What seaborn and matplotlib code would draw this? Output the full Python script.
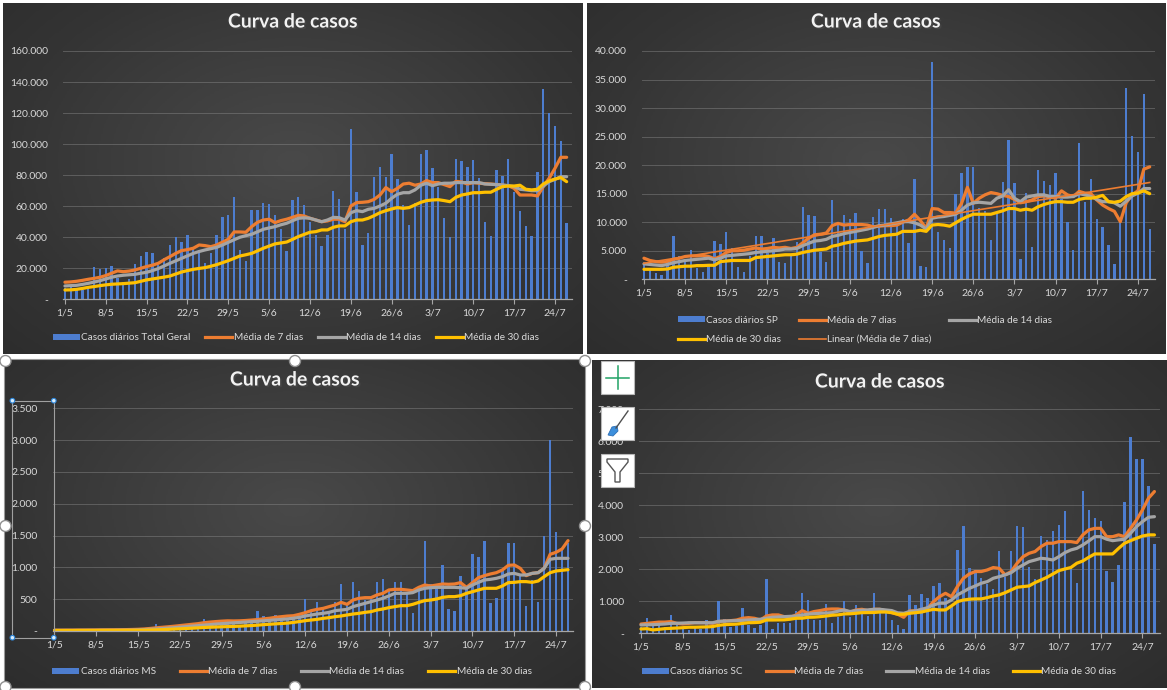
import numpy as np
import matplotlib
matplotlib.use('Agg')
import matplotlib.pyplot as plt
import matplotlib.patheffects as pe
from matplotlib.colors import LinearSegmentedColormap
from matplotlib.lines import Line2D
from matplotlib.patches import Patch, Rectangle, Circle, Polygon
from matplotlib.ticker import FuncFormatter
import seaborn as sns

plt.rcParams['font.family'] = ['Lato', 'DejaVu Sans']

W, H = 1167, 690

# Dias de 1/5 a 26/7
dias = np.arange(87)
rotulos_x = ['1/5', '8/5', '15/5', '22/5', '29/5', '5/6', '12/6', '19/6', '26/6', '3/7', '10/7', '17/7', '24/7']

# Total Geral (milhares)
total_casos = [7, 8, 6, 6, 8, 20.6, 19.5, 20.2, 21.5, 14,
               11, 13, 22.8, 27.9, 30.5, 29.6, 22, 26.4, 35.0, 40.2,
               36.9, 41.2, 33, 31.8, 23.6, 30, 41.5, 53.1, 54.1, 65.9,
               31.8, 24.7, 57.6, 57.6, 62.1, 61.4, 54.3, 45, 31.4, 64.0,
               66.0, 60.8, 50, 41.5, 34.4, 41.5, 69.8, 64.7, 45.3, 109.5,
               69.0, 35.0, 43.0, 79.0, 85.5, 79.0, 93.7, 77.5, 60.8, 47.9,
               62, 93.7, 96.2, 84.8, 72.6, 52.6, 40.0, 90.4, 89.1, 85.3,
               89.8, 78.0, 50.0, 40.8, 83.3, 79.7, 90.4, 69.4, 56.9, 47.5,
               40.8, 82.1, 135.5, 120.3, 111.7, 102.0, 49.2]
total_m7 = [11.0, 11.2, 11.6, 12.2, 12.9, 13.5, 14.2, 15.3, 16.8, 18.3,
            17.8, 18.2, 18.9, 20.0, 21.1, 22.0, 23.2, 25.5, 27.5, 29.6,
            31.4, 32.0, 32.9, 35.0, 34.6, 33.9, 35.0, 36.8, 38.7, 43.4,
            43.4, 43.2, 46.8, 49.6, 51.1, 51.6, 49.4, 50.7, 51.6, 52.8,
            54.1, 53.7, 52.2, 51.1, 50.0, 50.5, 51.6, 51.6, 50.0, 60.1,
            62.3, 62.5, 62.9, 64.4, 67.2, 72.0, 69.4, 71.5, 74.3, 74.8,
            73.5, 74.3, 76.5, 75.2, 75.2, 73.9, 72.6, 76.0, 75.6, 74.3,
            75.2, 74.8, 74.5, 74.3, 73.9, 73.5, 73.2, 71.5, 67.2, 67.2,
            67.2, 66.6, 72.6, 78.0, 84.4, 91.5, 91.5]
total_m14 = [8.6, 8.8, 9.0, 9.6, 10.3, 11.1, 12.0, 13.1, 14.2, 15.0,
             15.5, 15.8, 16.1, 16.8, 17.4, 18.5, 19.8, 21.5, 23.2, 24.8,
             26.4, 28.0, 29.6, 30.8, 31.8, 32.6, 33.5, 35.0, 36.7, 38.4,
             40.0, 41.0, 41.9, 43.5, 45.1, 46.0, 46.8, 48.0, 49.0, 50.6,
             52.2, 52.5, 52.2, 51.1, 50.0, 51.1, 52.8, 52.6, 51.1, 55.8,
             57.1, 56.5, 58.0, 58.6, 60.1, 61.9, 65.1, 67.7, 68.7, 68.7,
             70.5, 73.5, 74.8, 73.2, 74.3, 74.8, 74.8, 75.2, 75.2, 75.2,
             75.2, 75.2, 74.3, 74.1, 73.9, 73.7, 73.2, 72.6, 70.9, 70.5,
             70.0, 70.0, 73.0, 75.8, 77.3, 79.0, 79.0]
total_m30 = [6.0, 6.1, 6.4, 7.0, 7.7, 8.2, 8.8, 9.3, 9.7, 9.9,
             10.1, 10.4, 10.7, 11.6, 12.5, 13.1, 13.7, 14.3, 15.0, 16.3,
             17.6, 18.5, 19.3, 19.9, 20.4, 21.3, 22.3, 23.6, 24.9, 26.4,
             27.9, 28.7, 29.6, 31.2, 32.9, 34.3, 35.7, 36.3, 36.9, 38.6,
             40.4, 41.8, 43.2, 43.6, 44.7, 44.7, 46.4, 47.3, 47.3, 50.0,
             51.1, 51.1, 52.2, 53.9, 55.8, 57.1, 58.2, 59.1, 58.6, 59.1,
             60.8, 62.5, 63.6, 64.0, 64.2, 63.6, 62.9, 65.7, 67.2, 67.9,
             68.7, 68.7, 69.0, 69.0, 70.9, 72.6, 73.0, 73.0, 73.5, 70.9,
             70.5, 70.9, 74.3, 76.3, 77.5, 78.4, 75.8]

# SP (milhares)
sp_casos = [2.6, 1.6, 1.1, 0.8, 3.4, 7.5, 4.1, 3.4, 5.1, 1.9,
            1.3, 2.7, 6.7, 6.2, 8.2, 5.4, 2.2, 1.3, 4.0, 7.6,
            7.6, 4.6, 7.2, 3.1, 2.9, 4.0, 6.6, 12.7, 11.3, 11.1,
            4.8, 3.1, 13.9, 10.1, 11.3, 10.6, 11.7, 5.0, 2.9, 10.9,
            12.3, 12.3, 10.8, 9.6, 10.6, 6.4, 17.6, 2.3, 2.2, 38.1,
            8.2, 6.8, 5.4, 15.0, 18.7, 19.6, 19.7, 12.5, 12.0, 6.8,
            12.0, 17.1, 24.4, 16.8, 3.6, 15.1, 5.7, 19.2, 17.2, 16.5,
            18.6, 14.0, 10.1, 5.1, 23.9, 13.5, 17.6, 10.5, 9.2, 6.0,
            2.7, 10.5, 33.5, 25.1, 22.3, 32.5, 8.8]
sp_m7 = [3.7, 3.3, 3.1, 3.0, 3.1, 3.5, 3.7, 4.0, 4.1, 4.1,
         4.2, 4.0, 3.6, 4.0, 4.7, 5.0, 5.0, 5.1, 5.3, 5.5,
         5.3, 5.4, 5.6, 5.5, 5.6, 5.4, 5.6, 6.4, 7.2, 7.8,
         7.9, 8.1, 9.4, 9.8, 9.5, 9.6, 9.6, 9.6, 9.5, 9.2,
         9.3, 9.4, 9.4, 9.5, 10.0, 10.4, 11.4, 10.3, 8.9, 12.4,
         12.3, 11.7, 11.7, 11.6, 13.3, 16.1, 13.3, 14.2, 14.8, 15.2,
         15.0, 14.7, 14.5, 14.0, 13.4, 13.6, 13.9, 14.5, 14.6, 14.5,
         14.2, 15.5, 14.8, 14.5, 15.4, 15.1, 15.0, 13.9, 13.0, 12.4,
         11.9, 10.1, 13.4, 14.8, 15.5, 19.3, 19.7]
sp_m14 = [2.7, 2.6, 2.5, 2.4, 2.6, 2.9, 3.1, 3.3, 3.4, 3.5,
          3.6, 3.7, 3.4, 3.7, 4.1, 4.2, 4.3, 4.4, 4.5, 4.7,
          4.8, 4.9, 5.0, 5.1, 5.3, 5.3, 5.4, 5.9, 6.3, 6.7,
          6.8, 7.0, 7.5, 7.7, 8.0, 8.2, 8.4, 8.6, 8.8, 9.1,
          9.4, 9.5, 9.7, 9.9, 10.1, 10.1, 9.9, 9.5, 8.8, 10.7,
          10.9, 11.0, 11.2, 11.4, 12.1, 13.0, 13.4, 13.5, 13.4, 13.3,
          14.2, 14.6, 15.7, 14.2, 13.6, 14.4, 14.6, 14.8, 14.8, 14.5,
          14.5, 14.4, 14.4, 14.5, 15.0, 14.8, 14.5, 14.0, 13.6, 13.6,
          13.4, 12.8, 13.7, 14.6, 15.1, 15.9, 15.9]
sp_m30 = [1.75, 1.75, 1.75, 1.75, 1.8, 2.1, 2.2, 2.3, 2.3, 2.4,
          2.4, 2.45, 2.45, 3.1, 3.2, 3.3, 3.3, 3.3, 3.3, 3.8,
          3.9, 4.0, 4.1, 4.2, 4.3, 4.3, 4.4, 4.7, 4.9, 5.1,
          5.2, 5.3, 5.8, 6.0, 6.3, 6.5, 6.7, 6.8, 6.9, 7.2,
          7.5, 7.7, 7.8, 7.9, 8.4, 8.4, 8.4, 8.6, 8.4, 9.5,
          9.6, 9.5, 9.3, 9.9, 10.5, 11.0, 11.4, 11.4, 11.4, 11.4,
          11.7, 12.0, 12.4, 12.4, 12.1, 12.3, 12.1, 12.7, 13.1, 13.4,
          13.6, 13.6, 13.5, 13.5, 14.0, 14.2, 14.2, 14.4, 14.7, 13.6,
          13.5, 13.7, 14.5, 15.0, 15.1, 15.5, 15.0]

# MS
ms_casos = [0, 2, 0, 5, 3, 4, 8, 6, 10, 5,
            12, 15, 20, 18, 25, 35, 45, 113, 40, 55,
            70, 60, 90, 85, 100, 188, 110, 130, 150, 120,
            140, 100, 160, 150, 312, 242, 180, 258, 160, 200,
            230, 210, 500, 330, 460, 380, 300, 460, 740, 420,
            775, 630, 480, 520, 775, 820, 640, 775, 775, 620,
            290, 680, 1415, 740, 720, 1043, 345, 315, 865, 700,
            1210, 1170, 1415, 445, 515, 950, 1380, 1380, 880, 393,
            800, 460, 1493, 3000, 1550, 1300, 1380]
ms_m7 = [12, 12, 13, 13, 14, 14, 15, 16, 17, 18,
         19, 20, 22, 24, 27, 32, 40, 50, 58, 66,
         75, 85, 95, 105, 115, 130, 140, 148, 155, 160,
         158, 160, 165, 172, 180, 190, 200, 215, 225, 235,
         240, 262, 288, 320, 340, 356, 383, 409, 450, 419,
         487, 514, 524, 524, 566, 592, 645, 655, 655, 645,
         634, 686, 723, 707, 723, 739, 734, 739, 760, 686,
         760, 838, 870, 896, 917, 959, 1032, 1038, 985, 870,
         906, 917, 985, 1205, 1237, 1289, 1420]
ms_m14 = [10, 10, 10, 10, 10, 11, 11, 11, 12, 12,
          12, 13, 13, 14, 18, 22, 27, 32, 38, 45,
          52, 60, 68, 76, 84, 92, 100, 108, 115, 122,
          128, 134, 140, 147, 153, 160, 167, 175, 182, 190,
          200, 215, 236, 252, 267, 278, 293, 320, 330, 340,
          383, 409, 435, 461, 487, 514, 550, 592, 592, 592,
          603, 645, 671, 681, 686, 686, 686, 686, 681, 671,
          723, 765, 802, 812, 828, 854, 896, 906, 880, 880,
          906, 917, 985, 1127, 1142, 1142, 1142]
ms_m30 = [8, 8, 8, 8, 9, 9, 9, 9, 10, 10,
          10, 10, 11, 11, 12, 13, 15, 18, 21, 25,
          30, 34, 39, 44, 49, 55, 59, 62, 66, 69,
          72, 76, 81, 86, 92, 100, 106, 112, 118, 124,
          135, 148, 162, 173, 183, 199, 210, 225, 236, 252,
          267, 278, 293, 304, 330, 346, 367, 383, 398, 398,
          419, 450, 477, 487, 503, 529, 540, 540, 555, 592,
          618, 645, 671, 671, 671, 707, 760, 765, 776, 776,
          765, 786, 854, 917, 943, 954, 964]

# SC
sc_casos = [200, 470, 250, 250, 200, 570, 250, 200, 100, 180,
            120, 420, 160, 1010, 440, 210, 230, 780, 260, 160,
            260, 1690, 125, 310, 310, 330, 710, 1270, 1040, 420,
            420, 920, 330, 500, 1000, 520, 890, 625, 550, 1270,
            625, 625, 420, 260, 135, 1200, 885, 1230, 1115, 1480,
            1585, 1100, 900, 2600, 3365, 2030, 1980, 1720, 1550, 1375,
            2575, 1750, 2575, 3365, 3335, 2085, 1700, 3050, 2920, 3200,
            3385, 3825, 2050, 1585, 4460, 3855, 3615, 3510, 1960, 1615,
            2135, 4115, 6150, 5450, 5450, 4605, 2790]
sc_m7 = [290, 310, 330, 350, 350, 365, 310, 290, 310, 330,
         330, 330, 310, 365, 385, 395, 415, 470, 490, 470,
         415, 540, 575, 575, 520, 500, 575, 710, 625, 680,
         710, 750, 760, 760, 730, 655, 730, 750, 710, 750,
         750, 700, 645, 595, 500, 700, 700, 730, 780, 990,
         1145, 1250, 1145, 1460, 1720, 1855, 1930, 1930, 1980, 2055,
         2030, 1825, 1930, 2190, 2395, 2500, 2555, 2710, 2815, 2815,
         2865, 2865, 2865, 2835, 3075, 3230, 3280, 3280, 3020, 3020,
         3075, 3020, 3280, 3540, 3855, 4220, 4430]
sc_m14 = [260, 265, 270, 280, 290, 310, 315, 320, 330, 330,
          330, 330, 330, 375, 380, 390, 395, 405, 415, 428,
          440, 470, 500, 510, 520, 530, 540, 570, 600, 612,
          625, 635, 645, 690, 730, 680, 710, 720, 730, 750,
          750, 730, 710, 640, 625, 680, 700, 750, 800, 885,
          940, 940, 1040, 1200, 1300, 1405, 1480, 1565, 1615, 1720,
          1770, 1825, 1895, 2030, 2135, 2240, 2290, 2345, 2325, 2290,
          2395, 2520, 2605, 2655, 2760, 2885, 3020, 3020, 2940, 2895,
          2920, 2940, 3125, 3335, 3490, 3625, 3645]
sc_m30 = [135, 145, 105, 125, 145, 155, 165, 175, 190, 190,
          195, 200, 210, 250, 270, 280, 285, 310, 330, 335,
          345, 415, 415, 418, 420, 440, 470, 472, 500, 505,
          520, 540, 565, 575, 605, 610, 625, 645, 648, 650,
          665, 665, 645, 595, 595, 625, 645, 665, 710, 750,
          730, 730, 855, 990, 1040, 1065, 1075, 1075, 1115, 1165,
          1200, 1270, 1355, 1440, 1460, 1480, 1585, 1665, 1750, 1855,
          1960, 2010, 2055, 2190, 2260, 2375, 2480, 2480, 2480, 2480,
          2655, 2815, 2895, 2970, 3040, 3075, 3075]

AZUL = '#4d7dcf'
LARANJA = '#ED7D31'
CINZA = '#A5A5A5'
AMARELO = '#FFC000'
TEXTO = '#d9d9d9'

# fundo com gradiente radial (estilo escuro do Excel)
fundo_cmap = LinearSegmentedColormap.from_list('fundo', ['#262626', '#343434', '#494949'])
gx, gy = np.meshgrid(np.linspace(0, 1, 300), np.linspace(0, 1, 200))
grad = 1 - np.clip(np.sqrt(((gx - 0.5) / 0.85) ** 2 + ((gy - 0.45) / 0.95) ** 2), 0, 1)
grad = grad ** 0.8


def px_rect(x0, y0, x1, y1):
    return [x0 / W, 1 - y1 / H, (x1 - x0) / W, (y1 - y0) / H]


def formatador(escala):
    def f(v, pos):
        v = v * escala
        if abs(v) < 1e-9:
            return '-'
        return f'{v:,.0f}'.replace(',', '.')
    return FuncFormatter(f)


fig = plt.figure(figsize=(W / 100, H / 100), dpi=100)
fig.patch.set_facecolor('white')


def painel(caixa, area, titulo_xy, casos, m7, m14, m30, escala, ymax, passo,
           nome, leg_xy, ncol, espaco, tendencia=False):
    bg = fig.add_axes(px_rect(*caixa))
    bg.imshow(grad, cmap=fundo_cmap, aspect='auto', extent=(0, 1, 0, 1),
              origin='upper', vmin=0, vmax=1)
    bg.axis('off')

    ax = fig.add_axes(px_rect(*area))
    ax.patch.set_alpha(0)
    sns.barplot(x=dias, y=casos, native_scale=True, width=0.4, color=AZUL,
                saturation=1, errorbar=None, linewidth=0, ax=ax, zorder=2)
    estilo = dict(linewidth=2.3, solid_joinstyle='round', solid_capstyle='round')
    sns.lineplot(x=dias, y=m7, color=LARANJA, ax=ax, zorder=3, **estilo)
    sns.lineplot(x=dias, y=m14, color=CINZA, ax=ax, zorder=4, **estilo)
    sns.lineplot(x=dias, y=m30, color=AMARELO, ax=ax, zorder=5, **estilo)
    if tendencia:
        sns.regplot(x=dias, y=m7, scatter=False, ci=None, truncate=True, ax=ax,
                    color=LARANJA, line_kws={'linewidth': 1.2, 'zorder': 6})

    ax.set_xlim(-0.3, 86.9)
    ax.set_ylim(0, ymax)
    ax.set_yticks(np.arange(0, ymax + passo / 2, passo))
    ax.yaxis.set_major_formatter(formatador(escala))
    ax.set_xticks(np.arange(0, 85, 7), rotulos_x)
    ax.set_xlabel('')
    ax.set_ylabel('')
    ax.grid(False)
    ax.yaxis.grid(True, color='#8c8c8c', alpha=0.45, linewidth=0.7)
    ax.set_axisbelow(True)
    for s in ['top', 'right', 'left']:
        ax.spines[s].set_visible(False)
    ax.spines['bottom'].set_color('#a6a6a6')
    ax.spines['bottom'].set_linewidth(0.9)
    ax.spines['bottom'].set_zorder(7)
    ax.tick_params(axis='x', length=3.5, width=0.8, color='#a6a6a6', pad=3,
                   labelsize=7.5, labelcolor=TEXTO)
    ax.tick_params(axis='y', length=0, pad=11, labelsize=7.5, labelcolor=TEXTO)

    fig.text(titulo_xy[0] / W, 1 - titulo_xy[1] / H, 'Curva de casos',
             ha='center', va='center', fontsize=14, fontweight='bold', color='#f2f2f2',
             path_effects=[pe.withSimplePatchShadow(offset=(1.2, -1.2), alpha=0.7)])

    handles = [Patch(facecolor=AZUL, edgecolor='none'),
               Line2D([], [], color=LARANJA, linewidth=2.3),
               Line2D([], [], color=CINZA, linewidth=2.3),
               Line2D([], [], color=AMARELO, linewidth=2.3)]
    labels = [nome, 'Média de 7 dias', 'Média de 14 dias', 'Média de 30 dias']
    if tendencia:
        handles.append(Line2D([], [], color=LARANJA, linewidth=1.2))
        labels.append('Linear (Média de 7 dias)')
        ordem = [0, 3, 1, 4, 2]
        handles = [handles[i] for i in ordem]
        labels = [labels[i] for i in ordem]
    fig.legend(handles, labels, loc='center',
               bbox_to_anchor=(leg_xy[0] / W, 1 - leg_xy[1] / H),
               bbox_transform=fig.transFigure, ncol=ncol, frameon=False,
               fontsize=7.2, labelcolor=TEXTO, handlelength=2.7, handleheight=0.55,
               handletextpad=0.12, columnspacing=espaco, labelspacing=1.0)
    return ax


painel((3, 3, 583, 354), (63.2, 51, 571.9, 299.3), (293, 22),
       total_casos, total_m7, total_m14, total_m30, 1000, 160, 20,
       'Casos diários Total Geral', (296, 338), 4, 1.5)
painel((587, 3, 1165, 354), (642.2, 51, 1155, 279.3), (876, 22),
       sp_casos, sp_m7, sp_m14, sp_m30, 1000, 40, 5,
       'Casos diários SP', (865, 330), 3, 1.8, tendencia=True)
painel((4, 359, 585, 688), (52.7, 408.3, 573.4, 631), (295, 380),
       ms_casos, ms_m7, ms_m14, ms_m30, 1, 3500, 500,
       'Casos diários MS', (292, 672), 4, 2.4)
painel((592, 360, 1167, 688), (639.2, 409.3, 1159.8, 633.3), (880, 382),
       sc_casos, sc_m7, sc_m14, sc_m30, 1, 7000, 1000,
       'Casos diários SC', (879, 672), 4, 2.3)

# Elementos da interface do Excel (seleção e botões)
ov = fig.add_axes([0, 0, 1, 1])
ov.set_xlim(0, W)
ov.set_ylim(H, 0)
ov.axis('off')
ov.patch.set_alpha(0)

ov.add_patch(Rectangle((4, 359), 581, 329, fill=False, ec='#9a9a9a', lw=0.8))
for cx, cy in [(5.5, 361), (295, 361), (585, 361), (5.5, 526), (585, 526),
               (5.5, 687), (295, 687), (585, 687)]:
    ov.add_patch(Circle((cx, cy), 5.5, fc='white', ec='#8f8f8f', lw=1.0))
ov.add_patch(Rectangle((12.4, 400.7), 41.4, 237, fill=False, ec='#a0a0a0', lw=0.8))
for cx, cy in [(12.4, 400.7), (53.8, 400.7), (12.4, 637.7), (53.8, 637.7)]:
    ov.add_patch(Circle((cx, cy), 2.3, fc='#d8ecfb', ec='#2e88dd', lw=0.8))

for y0 in [361, 407, 454]:
    ov.add_patch(Rectangle((601, y0), 33, 33, fc='white', ec='#b8b8b8', lw=0.8))
ov.plot([606, 629], [377.5, 377.5], color='#21a366', lw=1.1)
ov.plot([617.5, 617.5], [366, 389], color='#21a366', lw=1.1)
ov.plot([628, 616], [411, 428], color='#505050', lw=1.0)
ov.add_patch(Polygon([(608, 435), (612, 427), (617, 426), (618, 431), (613, 436)],
                     closed=True, fc='#3c8fdc', ec='#2d6fb5', lw=0.6))
ov.add_patch(Polygon([(607, 459), (628, 459), (628, 462), (620, 472), (620, 482),
                      (615, 482), (615, 472), (607, 462)],
                     closed=True, fc='white', ec='#555555', lw=1.0))

fig.savefig('out.png', dpi=100, facecolor=fig.get_facecolor())
